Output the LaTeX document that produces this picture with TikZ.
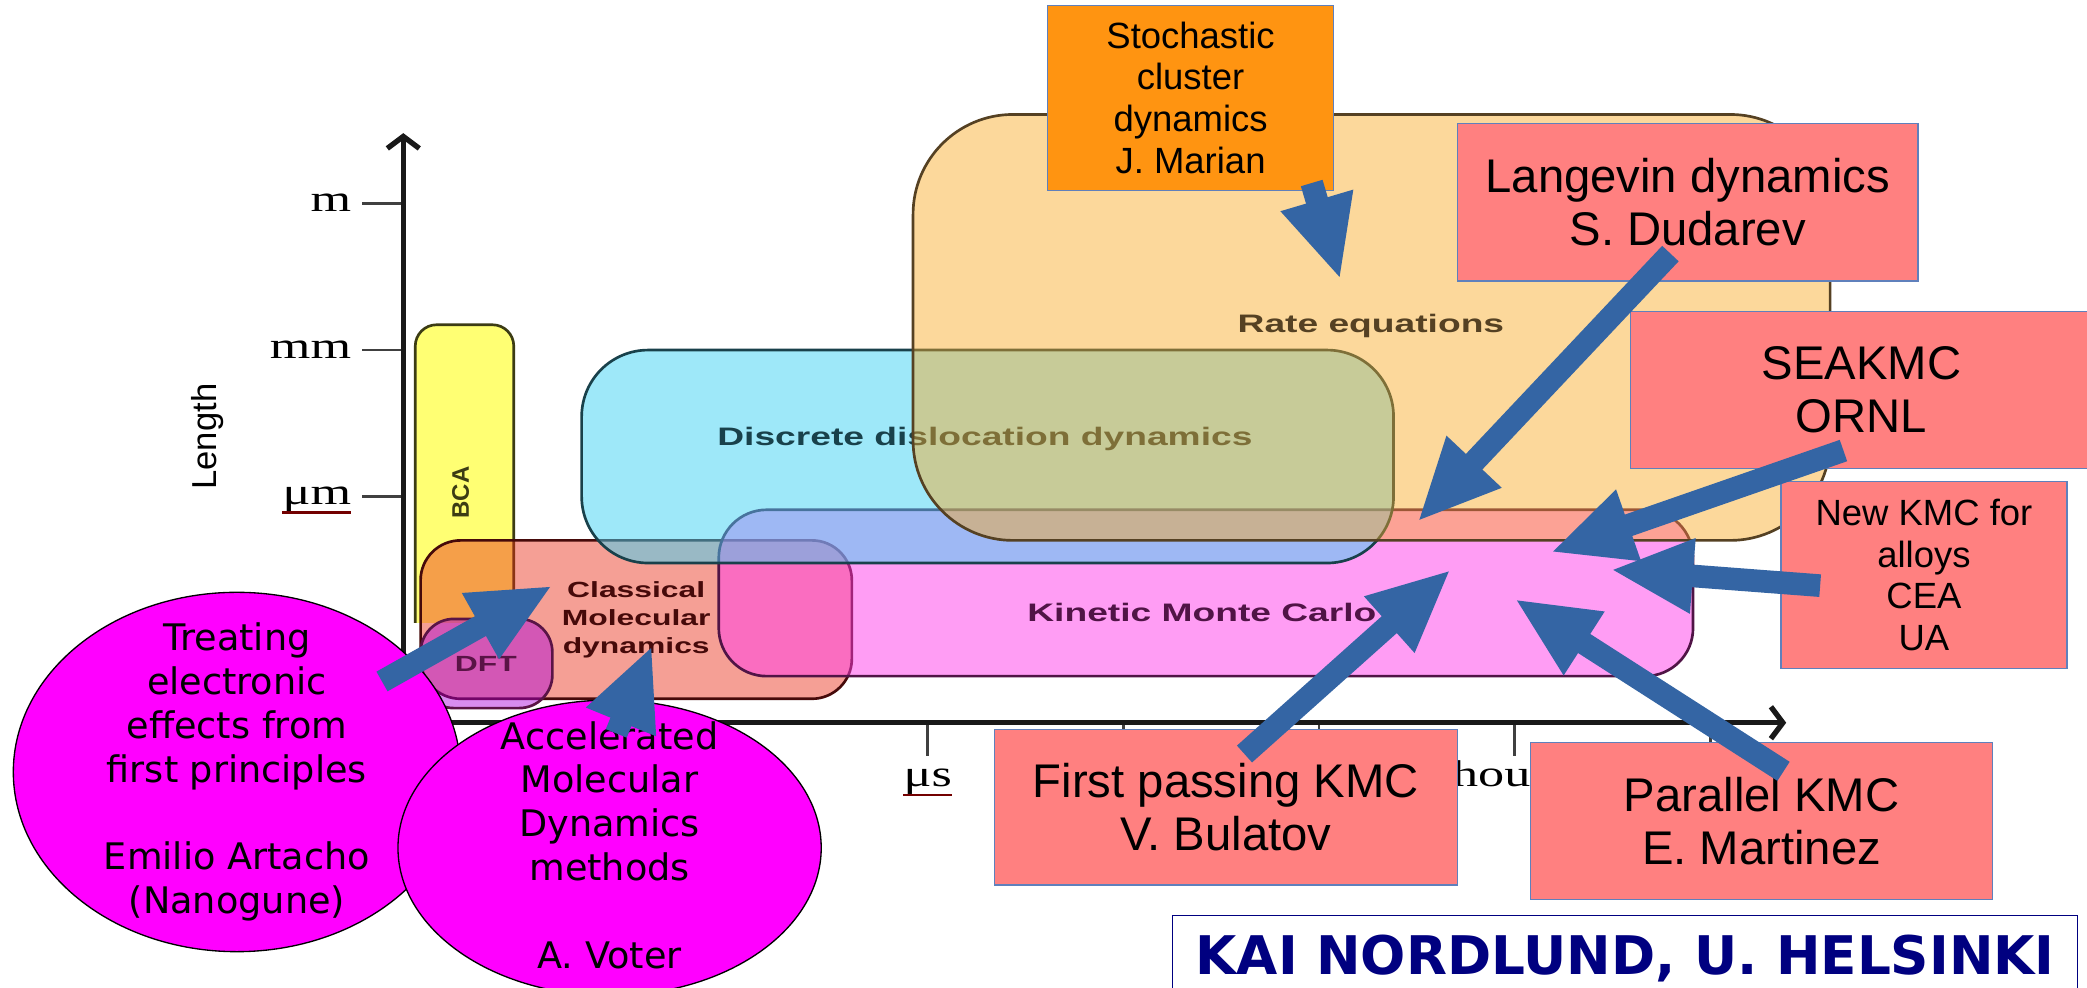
\documentclass[tikz,border=0pt]{standalone}
\usepackage{fontspec}
\setmainfont{Liberation Sans}
\newfontfamily\dejavu{DejaVu Sans}
\newfontfamily\axisserif{Liberation Serif}
\usepackage{tikz}
\usetikzlibrary{arrows.meta}

\definecolor{arrowblue}{RGB}{52,101,164}
\definecolor{boxsalmon}{RGB}{255,128,128}
\definecolor{boxedge}{RGB}{95,128,188}
\definecolor{stochorange}{RGB}{255,148,17}
\definecolor{bubblemagenta}{RGB}{255,0,255}
\definecolor{kainavy}{RGB}{0,0,128}
\definecolor{ratefill}{RGB}{249,169,35}
\definecolor{rateedge}{RGB}{85,65,35}
\definecolor{dddfill}{RGB}{63,211,245}
\definecolor{dddedge}{RGB}{25,65,75}
\definecolor{kmcfill}{RGB}{255,61,235}
\definecolor{kmcedge}{RGB}{80,20,70}
\definecolor{mdfill}{RGB}{233,44,22}
\definecolor{mdedge}{RGB}{70,10,10}
\definecolor{dftfill}{RGB}{170,0,220}
\definecolor{dftedge}{RGB}{90,20,70}
\definecolor{bcafill}{RGB}{255,255,115}
\definecolor{bcaedge}{RGB}{60,60,20}

\newcommand{\xstretch}[2]{\scalebox{#1}[1]{#2}}

\begin{document}
\begin{tikzpicture}[
    x=1pt, y=-1pt,
    axisline/.style={draw=black!90, line width=4pt},
    tickline/.style={draw=black!75, line width=2pt},
    ticklabel/.style={font=\axisserif\fontsize{28}{28}\selectfont, inner sep=0pt},
    spellmark/.style={draw=red!45!black, line width=2pt},
    chartlabel/.style={font=\bfseries\fontsize{19}{21}\selectfont, inner sep=0pt, align=center},
    region/.style={line width=2pt},
    bcabox/.style={region, fill=bcafill, draw=bcaedge, rounded corners=16pt},
    mdbox/.style={region, fill=mdfill, fill opacity=0.45, draw=mdedge, rounded corners=30pt},
    dftbox/.style={region, fill=dftfill, fill opacity=0.45, draw=dftedge, rounded corners=25pt},
    kmcbox/.style={region, fill=kmcfill, fill opacity=0.5, draw=kmcedge, rounded corners=36pt},
    dddbox/.style={region, fill=dddfill, fill opacity=0.5, draw=dddedge, rounded corners=50pt},
    ratebox/.style={region, fill=ratefill, fill opacity=0.45, draw=rateedge, rounded corners=75pt},
    namebox/.style={rectangle, draw=boxedge, line width=1pt, fill=boxsalmon, inner sep=0pt,
        align=center, font=\fontsize{35.5}{40}\selectfont},
    smallbox/.style={namebox, font=\fontsize{27.4}{31.4}\selectfont},
    bubble/.style={draw=black, line width=1pt, fill=bubblemagenta},
    bubbletext/.style={inner sep=0pt, align=center, font=\dejavu\fontsize{27.5}{33}\selectfont},
    kaibox/.style={rectangle, draw=kainavy, line width=1pt, fill=white, inner sep=0pt,
        text=kainavy, font=\dejavu\bfseries\fontsize{40}{40}\selectfont},
    bluearrow/.style={draw=arrowblue, line width=17pt, -{Triangle[length=62pt, width=52pt]}},
    >={Straight Barb[length=9pt, width=24pt]}
    ]
        \fill[white] (0,0) rectangle (1568,742);
        \useasboundingbox (0,0) rectangle (1568,742);
        \clip (0,0) rectangle (1568,742);

        %Axes
        \coordinate (origin) at (303,543);
        \coordinate (ytop)   at (303,100);
        \coordinate (xend)   at (1342,543);
        \foreach \ty/\tlab in {153/m, 263/mm, 373/μm} {
            \draw[tickline] (272,\ty) -- (303,\ty);
            \node[ticklabel, anchor=base east] (ylab\ty) at (264,\ty+6) {\xstretch{1.4}{\tlab}};
        }
        \draw[spellmark] (ylab373.south west) -- (ylab373.south east);
        \foreach \tx in {697,844,991,1138,1285}
            \draw[tickline] (\tx,543) -- (\tx,568);
        \node[ticklabel, anchor=base]      (xlabmus) at (697,591)  {\xstretch{1.4}{μs}};
        \node[ticklabel, anchor=base east] (xlabhou) at (1150,591) {\xstretch{1.4}{hou}};
        \draw[spellmark] (xlabmus.south west) -- (xlabmus.south east);
        \node[rotate=90, inner sep=0pt, font=\fontsize{26}{26}\selectfont]
            (lengthlbl) at (156,328) {Length};
        \draw[axisline, ->] (origin) -- (ytop);
        \draw[axisline, ->] (origin) -- (xend);

        %Regions
        \draw[bcabox] (312,468) -- (312,244) -- (386,244) -- (386,468);
        \node[chartlabel, rotate=90, text=bcaedge, font=\bfseries\fontsize{18}{18}\selectfont]
            (bcalbl) at (346,370) {BCA};
        \draw[mdbox] (316,406) rectangle (640,525);
        \node[chartlabel, text=mdedge, font=\bfseries\fontsize{16.5}{21}\selectfont]
            (mdlbl) at (478,466) {\xstretch{1.45}{Classical}\\\xstretch{1.45}{Molecular}\\\xstretch{1.45}{dynamics}};
        \draw[dftbox] (316,465) rectangle (415,532);
        \node[chartlabel, text=dftedge, font=\bfseries\fontsize{16.5}{16.5}\selectfont]
            (dftlbl) at (365,499) {\xstretch{1.45}{DFT}};
        \draw[kmcbox] (540,383) rectangle (1272,508);
        \node[chartlabel, text=kmcedge]
            (kmclbl) at (903,460) {\xstretch{1.47}{Kinetic Monte Carlo}};
        \draw[dddbox] (437,263) rectangle (1047,423);
        \node[chartlabel, text=dddedge]
            (dddlbl) at (740,330) {\xstretch{1.47}{Discrete dislocation dynamics}};
        \draw[ratebox] (686,86) rectangle (1375,406);
        \node[chartlabel, text=rateedge]
            (ratelbl) at (1030,245) {\xstretch{1.47}{Rate equations}};

        %Boxes
        \node[smallbox, fill=stochorange, minimum width=215pt, minimum height=139pt]
            (stoch) at (894.5,73.5) {Stochastic\\cluster\\dynamics\\J. Marian};
        \node[namebox, minimum width=346pt, minimum height=118pt]
            (lang) at (1268,152) {Langevin dynamics\\S. Dudarev};
        \node[namebox, minimum width=347pt, minimum height=118pt]
            (sea) at (1398.5,293) {SEAKMC\\ORNL};
        \node[smallbox, minimum width=215pt, minimum height=140pt]
            (nkmc) at (1445.5,432) {New KMC for\\alloys\\CEA\\UA};
        \node[namebox, minimum width=348pt, minimum height=117pt]
            (fpk) at (921,606.5) {First passing KMC\\V. Bulatov};
        \node[namebox, minimum width=347pt, minimum height=118pt]
            (par) at (1323.5,617) {Parallel KMC\\E. Martinez};

        %Bubbles
        \draw[bubble] (178,580) ellipse [x radius=168, y radius=135];
        \node[bubbletext] (elec) at (178,580)
            {Treating\\electronic\\effects from\\first principles\\[33pt]Emilio Artacho\\(Nanogune)};
        \draw[bubble] (458,637) ellipse [x radius=159, y radius=111];
        \node[bubbletext] (amd) at (458,635)
            {Accelerated\\Molecular\\Dynamics\\methods\\[33pt]A. Voter};

        \node[kaibox, minimum width=680pt, minimum height=64pt]
            (kai) at (1221,720) {KAI NORDLUND, U. HELSINKI};

        %Arrows
        \coordinate (tipRate)  at (1007,210);
        \coordinate (tipLang)  at (1065,392);
        \coordinate (tipSea)   at (1165,415);
        \coordinate (tipNew)   at (1210,428);
        \coordinate (tipPar)   at (1138,450);
        \coordinate (tipFirst) at (1090,428);
        \coordinate (tipElec)  at (415,440);
        \coordinate (tipAmd)   at (490,485);
        \draw[bluearrow] ([shift={(-17,-6)}]stoch.south east) -- (tipRate);
        \draw[bluearrow] ([shift={(-13,-21)}]lang.south) -- (tipLang);
        \draw[bluearrow] ([shift={(-13.5,-14)}]sea.south) -- (tipSea);
        \draw[bluearrow] ([shift={(30,8)}]nkmc.west) -- (tipNew);
        \draw[bluearrow] ([shift={(16.5,22)}]par.north) -- (tipPar);
        \draw[bluearrow] ([shift={(14,19)}]fpk.north) -- (tipFirst);
        \draw[bluearrow] ([shift={(109,-68)}]elec.center) -- (tipElec);
        \draw[bluearrow] ([shift={(5,-84)}]amd.center) -- (tipAmd);
    \end{tikzpicture}
\end{document}
